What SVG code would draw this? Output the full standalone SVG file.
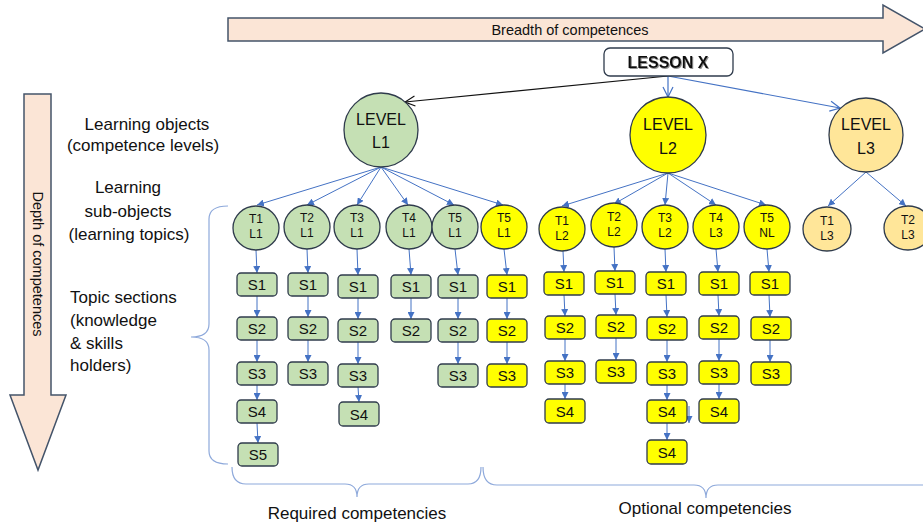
<svg xmlns="http://www.w3.org/2000/svg" width="923" height="525" viewBox="0 0 923 525">
  <style>
    text { font-family: "Liberation Sans", Arial, sans-serif; fill: #111; }
    .big { fill: #FBE5D6; stroke: #44546A; stroke-width: 1.5; }
    .lvl1 { fill: #C5E0B4; stroke: #2F3B4C; stroke-width: 1.3; }
    .lvl2 { fill: #FFFF00; stroke: #2F3B4C; stroke-width: 1.3; }
    .lvl3 { fill: #FFE699; stroke: #2F3B4C; stroke-width: 1.3; }
    .lesson { fill: #fff; stroke: #2F3B4C; stroke-width: 1.3; }
    .brace { fill: none; stroke: #8EA9DB; stroke-width: 1.2; }
    .edge { fill: none; stroke: #4472C4; stroke-width: 1; marker-end: url(#dot); }
    .ledge { fill: none; stroke: #4472C4; stroke-width: 1.2; marker-end: url(#openBlue); }
    .side { font-size: 17px; }
    .lvlt { font-size: 16px; text-anchor: middle; }
    .tt { font-size: 12px; text-anchor: middle; }
    .st { font-size: 15px; text-anchor: middle; }
  </style>
  <defs>
    <marker id="dot" viewBox="0 0 10 10" refX="10" refY="5" markerWidth="7" markerHeight="7" markerUnits="userSpaceOnUse" orient="auto">
      <path d="M0,0 L10,5 L0,10 z" fill="#4472C4"/>
    </marker>
    <marker id="openBlue" viewBox="0 0 12 12" refX="11" refY="6" markerWidth="12" markerHeight="12" markerUnits="userSpaceOnUse" orient="auto">
      <path d="M1,1 L11,6 L1,11" fill="none" stroke="#4472C4" stroke-width="1.2"/>
    </marker>
    <marker id="openBlack" viewBox="0 0 12 12" refX="11" refY="6" markerWidth="12" markerHeight="12" markerUnits="userSpaceOnUse" orient="auto">
      <path d="M1,1 L11,6 L1,11" fill="none" stroke="#111" stroke-width="1.2"/>
    </marker>
    <filter id="shadow" x="-10%" y="-20%" width="130%" height="150%">
      <feDropShadow dx="1" dy="1" stdDeviation="0.6" flood-color="#777" flood-opacity="0.8"/>
    </filter>
  </defs>

  <!-- Axis arrows -->
  <g id="breadth">
    <polygon class="big" points="228,18 883,18 883,5 925,29 883,53 883,41 228,41"/>
    <text x="570" y="35" font-size="14.5" text-anchor="middle">Breadth of competences</text>
  </g>
  <g id="depth">
    <polygon class="big" points="24,94 51,94 51,395 66,395 38,470 10,395 24,395"/>
    <text x="0" y="0" font-size="14.5" text-anchor="middle" transform="translate(33,264) rotate(90)">Depth of competences</text>
  </g>

  <!-- Row captions -->
  <g id="captions" class="side">
    <text x="147" y="130" text-anchor="middle">Learning objects</text>
    <text x="143" y="151" text-anchor="middle">(competence levels)</text>
    <text x="128" y="193" text-anchor="middle">Learning</text>
    <text x="128" y="217" text-anchor="middle">sub-objects</text>
    <text x="129" y="240" text-anchor="middle">(learning topics)</text>
    <text x="70" y="303">Topic sections</text>
    <text x="70" y="326">(knowledge</text>
    <text x="70" y="349">&amp; skills</text>
    <text x="70" y="371">holders)</text>
  </g>

  <!-- Braces -->
  <g id="braces">
    <path class="brace" d="M228,206 Q209,206 209,219 L209,324 Q209,337 191,337 Q209,337 209,350 L209,451 Q209,464 228,464"/>
    <path class="brace" d="M232,467 Q232,484 246,484 L345,484 Q357,484 357,497 Q357,484 369,484 L468,484 Q481,484 481,467"/>
    <path class="brace" d="M483,467 Q483,485 497,485 L694,485 Q706,485 706,498 Q706,485 718,485 L923,485"/>
    <text x="357" y="519" class="side" text-anchor="middle">Required competencies</text>
    <text x="705" y="514" class="side" text-anchor="middle">Optional competencies</text>
  </g>

  <!-- Connectors -->
  <g id="connectors">
    <path d="M668,76 L405,102" fill="none" stroke="#111" stroke-width="1.2" marker-end="url(#openBlack)"/>
    <path class="ledge" d="M668,76 L668,97"/>
    <path class="ledge" d="M668,76 L840,108"/>

    <path class="edge" d="M381,167 L257,205"/>
    <path class="edge" d="M381,167 L307,205"/>
    <path class="edge" d="M381,167 L357,205"/>
    <path class="edge" d="M381,167 L408,205"/>
    <path class="edge" d="M381,167 L454,205"/>
    <path class="edge" d="M381,167 L503,205"/>

    <path class="edge" d="M668,173 L562,206"/>
    <path class="edge" d="M668,173 L614,204"/>
    <path class="edge" d="M668,173 L665,205"/>
    <path class="edge" d="M668,173 L716,205"/>
    <path class="edge" d="M668,173 L766,205"/>

    <path class="edge" d="M866,172 L828,206"/>
    <path class="edge" d="M866,172 L906,206"/>

    <!-- T1 L1 -->
    <path class="edge" d="M256,250 L257,273"/>
    <path class="edge" d="M257,296 L257,317"/>
    <path class="edge" d="M257,340 L257,362"/>
    <path class="edge" d="M257,385 L257,400"/>
    <path class="edge" d="M257,423 L258,443"/>
    <!-- T2 L1 -->
    <path class="edge" d="M307,249 L308,273"/>
    <path class="edge" d="M308,296 L308,317"/>
    <path class="edge" d="M308,340 L308,362"/>
    <!-- T3 L1 -->
    <path class="edge" d="M357,249 L358,275"/>
    <path class="edge" d="M358,298 L358,319"/>
    <path class="edge" d="M358,342 L358,364"/>
    <path class="edge" d="M358,387 L359,402"/>
    <!-- T4 L1 -->
    <path class="edge" d="M409,249 L411,275"/>
    <path class="edge" d="M411,298 L411,319"/>
    <!-- T5 L1 -->
    <path class="edge" d="M455,249 L458,275"/>
    <path class="edge" d="M458,298 L458,319"/>
    <path class="edge" d="M458,342 L458,364"/>
    <!-- T5 L1 (optional) -->
    <path class="edge" d="M504,249 L507,275"/>
    <path class="edge" d="M507,298 L507,319"/>
    <path class="edge" d="M507,342 L507,364"/>
    <!-- T1 L2 -->
    <path class="edge" d="M563,251 L564,272"/>
    <path class="edge" d="M564,295 L565,316"/>
    <path class="edge" d="M565,339 L565,361"/>
    <path class="edge" d="M565,384 L565,399"/>
    <!-- T2 L2 -->
    <path class="edge" d="M614,247 L615,271"/>
    <path class="edge" d="M615,294 L616,315"/>
    <path class="edge" d="M616,338 L616,360"/>
    <!-- T3 L2 -->
    <path class="edge" d="M665,249 L666,272"/>
    <path class="edge" d="M666,295 L667,317"/>
    <path class="edge" d="M667,340 L667,362"/>
    <path class="edge" d="M667,385 L667,400"/>
    <path class="edge" d="M667,423 L667,440"/>
    <path class="edge" d="M689,406 L689,423"/>
    <!-- T4 L3 -->
    <path class="edge" d="M716,249 L718,272"/>
    <path class="edge" d="M718,295 L719,316"/>
    <path class="edge" d="M719,339 L719,361"/>
    <path class="edge" d="M719,384 L719,399"/>
    <!-- T5 NL -->
    <path class="edge" d="M767,249 L769,272"/>
    <path class="edge" d="M769,295 L770,317"/>
    <path class="edge" d="M770,340 L770,362"/>
  </g>

  <!-- Lesson and level nodes -->
  <g id="lesson">
    <rect class="lesson" x="604" y="48" width="129" height="28" rx="6"/>
    <text x="668" y="68" font-size="16" font-weight="bold" text-anchor="middle" filter="url(#shadow)" fill="#222">LESSON X</text>
  </g>
  <g id="level-l1">
    <circle class="lvl1" cx="381" cy="130" r="37"/>
    <text class="lvlt" x="381" y="125">LEVEL</text>
    <text class="lvlt" x="381" y="148">L1</text>
  </g>
  <g id="level-l2">
    <circle class="lvl2" cx="668" cy="135" r="38"/>
    <text class="lvlt" x="668" y="130">LEVEL</text>
    <text class="lvlt" x="668" y="154">L2</text>
  </g>
  <g id="level-l3">
    <circle class="lvl3" cx="866" cy="135" r="37"/>
    <text class="lvlt" x="866" y="130">LEVEL</text>
    <text class="lvlt" x="866" y="154">L3</text>
  </g>

  <!-- Topic nodes -->
  <g id="t1-l1"><ellipse class="lvl1" cx="256" cy="228" rx="23" ry="22"/><text class="tt" x="256" y="223">T1</text><text class="tt" x="256" y="238">L1</text></g>
  <g id="t2-l1"><ellipse class="lvl1" cx="307" cy="227" rx="23" ry="22"/><text class="tt" x="307" y="222">T2</text><text class="tt" x="307" y="237">L1</text></g>
  <g id="t3-l1"><ellipse class="lvl1" cx="357" cy="227" rx="23" ry="22"/><text class="tt" x="357" y="222">T3</text><text class="tt" x="357" y="237">L1</text></g>
  <g id="t4-l1"><ellipse class="lvl1" cx="409" cy="227" rx="23" ry="22"/><text class="tt" x="409" y="222">T4</text><text class="tt" x="409" y="237">L1</text></g>
  <g id="t5-l1"><ellipse class="lvl1" cx="455" cy="227" rx="23" ry="22"/><text class="tt" x="455" y="222">T5</text><text class="tt" x="455" y="237">L1</text></g>
  <g id="t5-l1-opt"><ellipse class="lvl2" cx="504" cy="227" rx="23" ry="22"/><text class="tt" x="504" y="222">T5</text><text class="tt" x="504" y="237">L1</text></g>
  <g id="t1-l2"><ellipse class="lvl2" cx="562" cy="229" rx="23" ry="22"/><text class="tt" x="562" y="225">T1</text><text class="tt" x="562" y="240">L2</text></g>
  <g id="t2-l2"><ellipse class="lvl2" cx="614" cy="225" rx="23" ry="22"/><text class="tt" x="614" y="221">T2</text><text class="tt" x="614" y="236">L2</text></g>
  <g id="t3-l2"><ellipse class="lvl2" cx="665" cy="227" rx="23" ry="22"/><text class="tt" x="665" y="222">T3</text><text class="tt" x="665" y="237">L2</text></g>
  <g id="t4-l3"><ellipse class="lvl2" cx="716" cy="227" rx="23" ry="22"/><text class="tt" x="716" y="222">T4</text><text class="tt" x="716" y="237">L3</text></g>
  <g id="t5-nl"><ellipse class="lvl2" cx="767" cy="227" rx="23" ry="22"/><text class="tt" x="767" y="222">T5</text><text class="tt" x="767" y="237">NL</text></g>
  <g id="t1-l3"><ellipse class="lvl3" cx="827" cy="229" rx="24" ry="22"/><text class="tt" x="827" y="225">T1</text><text class="tt" x="827" y="240">L3</text></g>
  <g id="t2-l3"><ellipse class="lvl3" cx="908" cy="228" rx="24" ry="22"/><text class="tt" x="908" y="224">T2</text><text class="tt" x="908" y="239">L3</text></g>

  <!-- Section nodes -->
  <g id="t1-l1-s1"><rect class="lvl1" x="237" y="273" width="40" height="23" rx="4"/><text class="st" x="257" y="290">S1</text></g>
  <g id="t1-l1-s2"><rect class="lvl1" x="237" y="317" width="40" height="23" rx="4"/><text class="st" x="257" y="334">S2</text></g>
  <g id="t1-l1-s3"><rect class="lvl1" x="237" y="362" width="40" height="23" rx="4"/><text class="st" x="257" y="379">S3</text></g>
  <g id="t1-l1-s4"><rect class="lvl1" x="237" y="400" width="40" height="23" rx="4"/><text class="st" x="257" y="417">S4</text></g>
  <g id="t1-l1-s5"><rect class="lvl1" x="238" y="443" width="40" height="23" rx="4"/><text class="st" x="258" y="460">S5</text></g>

  <g id="t2-l1-s1"><rect class="lvl1" x="288" y="273" width="40" height="23" rx="4"/><text class="st" x="308" y="290">S1</text></g>
  <g id="t2-l1-s2"><rect class="lvl1" x="288" y="317" width="40" height="23" rx="4"/><text class="st" x="308" y="334">S2</text></g>
  <g id="t2-l1-s3"><rect class="lvl1" x="288" y="362" width="40" height="23" rx="4"/><text class="st" x="308" y="379">S3</text></g>

  <g id="t3-l1-s1"><rect class="lvl1" x="338" y="275" width="40" height="23" rx="4"/><text class="st" x="358" y="292">S1</text></g>
  <g id="t3-l1-s2"><rect class="lvl1" x="338" y="319" width="40" height="23" rx="4"/><text class="st" x="358" y="336">S2</text></g>
  <g id="t3-l1-s3"><rect class="lvl1" x="338" y="364" width="40" height="23" rx="4"/><text class="st" x="358" y="381">S3</text></g>
  <g id="t3-l1-s4"><rect class="lvl1" x="339" y="402" width="40" height="24" rx="4"/><text class="st" x="359" y="420">S4</text></g>

  <g id="t4-l1-s1"><rect class="lvl1" x="391" y="275" width="40" height="23" rx="4"/><text class="st" x="411" y="292">S1</text></g>
  <g id="t4-l1-s2"><rect class="lvl1" x="391" y="319" width="40" height="23" rx="4"/><text class="st" x="411" y="336">S2</text></g>

  <g id="t5-l1-s1"><rect class="lvl1" x="438" y="275" width="40" height="23" rx="4"/><text class="st" x="458" y="292">S1</text></g>
  <g id="t5-l1-s2"><rect class="lvl1" x="438" y="319" width="40" height="23" rx="4"/><text class="st" x="458" y="336">S2</text></g>
  <g id="t5-l1-s3"><rect class="lvl1" x="438" y="364" width="40" height="23" rx="4"/><text class="st" x="458" y="381">S3</text></g>

  <g id="t5-l1-opt-s1"><rect class="lvl2" x="487" y="275" width="40" height="23" rx="4"/><text class="st" x="507" y="292">S1</text></g>
  <g id="t5-l1-opt-s2"><rect class="lvl2" x="487" y="319" width="40" height="23" rx="4"/><text class="st" x="507" y="336">S2</text></g>
  <g id="t5-l1-opt-s3"><rect class="lvl2" x="487" y="364" width="40" height="23" rx="4"/><text class="st" x="507" y="381">S3</text></g>

  <g id="t1-l2-s1"><rect class="lvl2" x="544" y="272" width="40" height="23" rx="4"/><text class="st" x="564" y="289">S1</text></g>
  <g id="t1-l2-s2"><rect class="lvl2" x="545" y="316" width="40" height="23" rx="4"/><text class="st" x="565" y="333">S2</text></g>
  <g id="t1-l2-s3"><rect class="lvl2" x="545" y="361" width="40" height="23" rx="4"/><text class="st" x="565" y="378">S3</text></g>
  <g id="t1-l2-s4"><rect class="lvl2" x="545" y="399" width="40" height="24" rx="4"/><text class="st" x="565" y="417">S4</text></g>

  <g id="t2-l2-s1"><rect class="lvl2" x="595" y="271" width="40" height="23" rx="4"/><text class="st" x="615" y="288">S1</text></g>
  <g id="t2-l2-s2"><rect class="lvl2" x="596" y="315" width="40" height="23" rx="4"/><text class="st" x="616" y="332">S2</text></g>
  <g id="t2-l2-s3"><rect class="lvl2" x="596" y="360" width="40" height="23" rx="4"/><text class="st" x="616" y="377">S3</text></g>

  <g id="t3-l2-s1"><rect class="lvl2" x="646" y="272" width="40" height="23" rx="4"/><text class="st" x="666" y="289">S1</text></g>
  <g id="t3-l2-s2"><rect class="lvl2" x="647" y="317" width="40" height="23" rx="4"/><text class="st" x="667" y="334">S2</text></g>
  <g id="t3-l2-s3"><rect class="lvl2" x="647" y="362" width="40" height="23" rx="4"/><text class="st" x="667" y="379">S3</text></g>
  <g id="t3-l2-s4"><rect class="lvl2" x="647" y="400" width="40" height="23" rx="4"/><text class="st" x="667" y="417">S4</text></g>
  <g id="t3-l2-s4b"><rect class="lvl2" x="647" y="440" width="40" height="24" rx="4"/><text class="st" x="667" y="458">S4</text></g>

  <g id="t4-l3-s1"><rect class="lvl2" x="699" y="272" width="40" height="23" rx="4"/><text class="st" x="719" y="289">S1</text></g>
  <g id="t4-l3-s2"><rect class="lvl2" x="699" y="316" width="40" height="23" rx="4"/><text class="st" x="719" y="333">S2</text></g>
  <g id="t4-l3-s3"><rect class="lvl2" x="699" y="361" width="40" height="23" rx="4"/><text class="st" x="719" y="378">S3</text></g>
  <g id="t4-l3-s4"><rect class="lvl2" x="699" y="399" width="40" height="24" rx="4"/><text class="st" x="719" y="417">S4</text></g>

  <g id="t5-nl-s1"><rect class="lvl2" x="750" y="272" width="40" height="23" rx="4"/><text class="st" x="770" y="289">S1</text></g>
  <g id="t5-nl-s2"><rect class="lvl2" x="751" y="317" width="40" height="23" rx="4"/><text class="st" x="771" y="334">S2</text></g>
  <g id="t5-nl-s3"><rect class="lvl2" x="751" y="362" width="40" height="23" rx="4"/><text class="st" x="771" y="379">S3</text></g>
</svg>
